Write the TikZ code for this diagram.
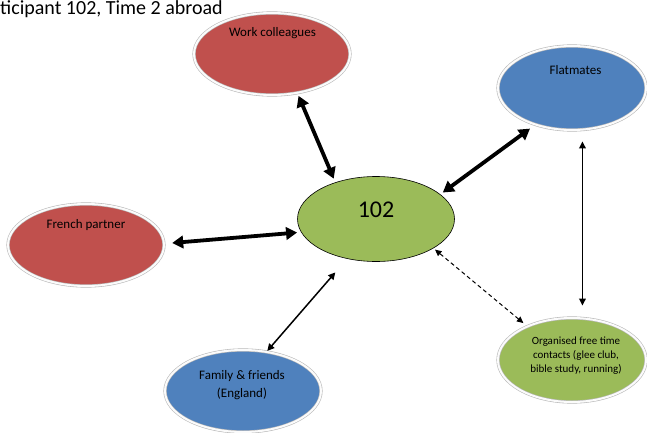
\documentclass[tikz,border=0pt]{standalone}
\usepackage{fontspec}
\setmainfont{Carlito}
\usetikzlibrary{shapes.geometric,arrows.meta}
\definecolor{ored}{HTML}{C0504D}
\definecolor{oblue}{HTML}{4F81BD}
\definecolor{ogreen}{HTML}{9BBB59}
\begin{document}
\begin{tikzpicture}[x=1pt,y=-1pt,
  bubble/.style={ellipse, inner sep=0pt, draw=gray!55, double=white!97!gray, double distance=2pt, line width=0.6pt},
  lbl/.style={font=\fontsize{13}{18}\selectfont, text=black, align=center, inner sep=0pt},
  bigarrow/.style={line width=3.8pt, {Triangle[length=11pt,width=12.5pt]}-{Triangle[length=11pt,width=12.5pt]}},
  thinarrow/.style={line width=1.5pt, {Triangle[length=7pt,width=7pt]}-{Triangle[length=7pt,width=7pt]}},
  midarrow/.style={line width=1.7pt, {Triangle[length=7pt,width=6.5pt]}-{Triangle[length=7pt,width=6.5pt]}},
  dasharrow/.style={line width=1pt, dash pattern=on 4pt off 3pt, {Triangle[length=6.5pt,width=6pt]}-{Triangle[length=6.5pt,width=6pt]}}
]
\useasboundingbox (0,0) rectangle (647,433);

\node[anchor=base west, inner sep=0pt, font=\fontsize{20}{23}\selectfont] (title) at (0,15) {ticipant 102, Time 2 abroad};

\node[bubble, fill=ored, minimum width=156pt, minimum height=82pt] (wc) at (272,54) {};
\node[lbl] (wct) at (272.5,33) {Work colleagues};

\node[bubble, fill=oblue, minimum width=148pt, minimum height=84pt] (fl) at (572,88) {};
\node[lbl] (flt) at (575.5,70) {Flatmates};

\node[ellipse, draw=black, line width=0.6pt, fill=ogreen, minimum width=157pt, minimum height=85pt, inner sep=0pt] (c) at (376,219) {};
\node[inner sep=0pt, font=\fontsize{24}{28}\selectfont] (ct) at (376,210) {102};

\node[bubble, fill=ored, minimum width=156pt, minimum height=82pt] (fp) at (86,245) {};
\node[lbl] (fpt) at (86,225) {French partner};

\node[bubble, fill=oblue, minimum width=156pt, minimum height=82pt] (fam) at (243,391) {};
\node[lbl] (famt) at (242,385) {Family \& friends\\(England)};

\node[bubble, fill=ogreen, minimum width=148pt, minimum height=84pt] (org) at (572,360) {};
\node[lbl, font=\fontsize{11}{14}\selectfont] (orgt) at (576,356) {Organised free time\\contacts (glee club,\\bible study, running)};

\draw[bigarrow, shorten <=3pt, shorten >=4pt] (wc.-57) -- (c.138);
\draw[bigarrow, shorten <=6.5pt, shorten >=3pt] (fl.225) -- (c.21);
\draw[bigarrow, shorten <=8pt, shorten >=4pt] (fp.1) -- (c.190);
\draw[thinarrow, shorten <=1pt, shorten >=18pt] (fam.59) -- (c.234);
\draw[dasharrow, shorten <=5pt, shorten >=2pt] (org.143) -- (c.-27);
\draw[midarrow, shorten <=11.5pt, shorten >=12.5pt] (fl.-76) -- (org.76);
\end{tikzpicture}
\end{document}
